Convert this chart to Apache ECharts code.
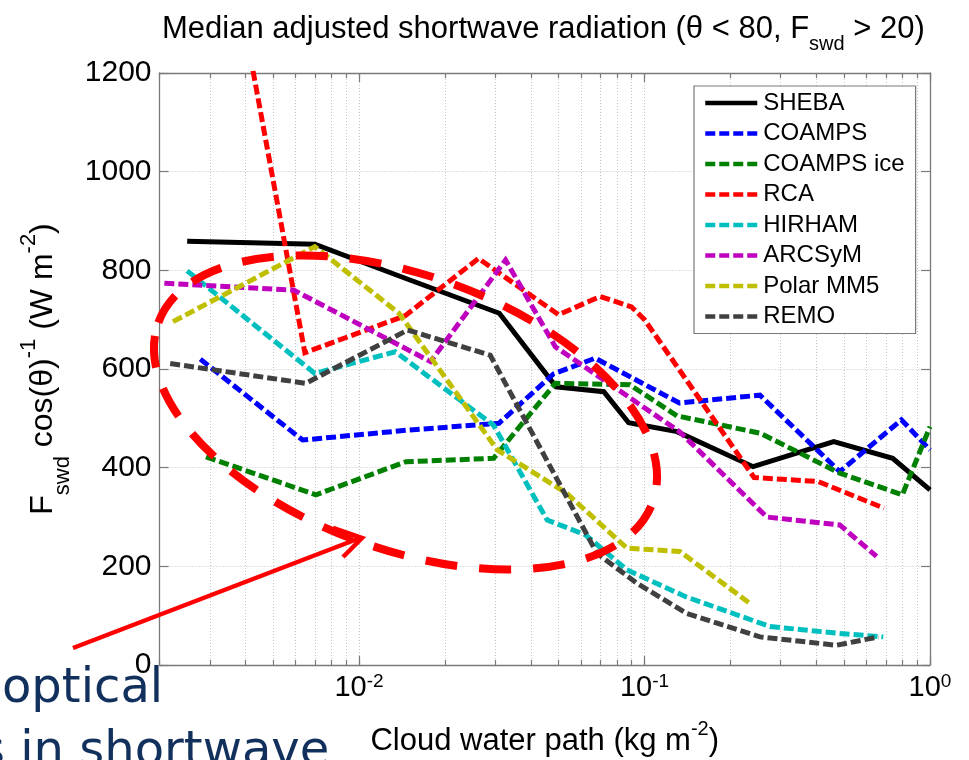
<!DOCTYPE html>
<html>
<head>
<meta charset="utf-8">
<script src="https://cdn.jsdelivr.net/npm/echarts@6/dist/echarts.min.js"></script>
<style>
  html, body { margin: 0; padding: 0; background: #ffffff; }
  #chart { width: 969px; height: 760px; }
</style>
</head>
<body>
<div id="chart"></div>
<script>
// Series names and colours (legend order)
const seriesNames = ['SHEBA', 'COAMPS', 'COAMPS ice', 'RCA', 'HIRHAM', 'ARCSyM', 'Polar MM5', 'REMO'];
const seriesColors = ['#000000', '#0000ff', '#008000', '#ff0000', '#00bfbf', '#bf00bf', '#bfbf00', '#404040'];

// Median values: [cloud water path (kg m^-2), F_swd cos(θ)^-1 (W m^-2)]
const sheba = [[0.0025, 859], [0.0070, 853], [0.0136, 790], [0.031, 713], [0.049, 564], [0.072, 554],
  [0.088, 491], [0.13, 473], [0.24, 402], [0.46, 453], [0.74, 419], [1.0, 355]];
const coamps = [[0.00278, 620], [0.00634, 456], [0.0148, 476], [0.0309, 490], [0.048, 590], [0.0672, 622],
  [0.1325, 531], [0.2537, 547], [0.483, 392], [0.794, 497], [1.0, 436]];
const coampsIce = [[0.00291, 422], [0.00706, 345], [0.0146, 412], [0.0296, 419], [0.0487, 571], [0.0888, 568],
  [0.13, 505], [0.2537, 470], [0.483, 389], [0.80, 345], [1.0, 483]];
const rca = [[0.0025, 1930], [0.00646, 633], [0.0145, 708], [0.0262, 824], [0.05, 710], [0.07, 747],
  [0.090, 726], [0.10, 700], [0.242, 380], [0.405, 372], [0.69, 318]];
const hirham = [[0.0025, 799], [0.0070, 591], [0.0134, 635], [0.0296, 486], [0.0456, 294], [0.062, 264],
  [0.0867, 193], [0.14, 138], [0.275, 78], [0.483, 64], [0.686, 57]];
const arcsym = [[0.00208, 774], [0.0059, 760], [0.0178, 615], [0.0326, 821], [0.0487, 645], [0.1325, 473],
  [0.268, 300], [0.483, 284], [0.65, 220]];
const polarMM5 = [[0.00223, 696], [0.0070, 848], [0.0138, 713], [0.0305, 436], [0.0534, 348], [0.0867, 237],
  [0.133, 230], [0.234, 125]];
const remo = [[0.00218, 611], [0.00651, 571], [0.0148, 679], [0.0288, 628], [0.0682, 226], [0.0939, 166],
  [0.14, 105], [0.2537, 57], [0.47, 40], [0.66, 57]];

const seriesData = [sheba, coamps, coampsIce, rca, hirham, arcsym, polarMM5, remo];

// Axis ticks
const xMin = 0.002, xMax = 1;
const xMajorTicks = [0.01, 0.1, 1];
const xMinorTicks = [];
[0.001, 0.01, 0.1].forEach(function (d) {
  for (let k = 1; k <= 9; k++) {
    const v = +(k * d).toPrecision(6);
    if (v >= xMin) xMinorTicks.push(v);
  }
});
xMinorTicks.push(1);
const yMin = 0, yMax = 1200, yStep = 200;

const FONT = 'Liberation Sans, Arial, Helvetica, sans-serif';
const SLIDE_FONT = '"DejaVu Sans", Verdana, sans-serif';
const BOX = '#7a7a7a';
const GRIDLINE = '#c4c4c4';

const supLabel = {
  b: { fontSize: 29, fontFamily: FONT, color: '#000', lineHeight: 30, verticalAlign: 'bottom' },
  sup: { fontSize: 19, fontFamily: FONT, color: '#000', lineHeight: 20, verticalAlign: 'top' }
};

function xAxisDef(position, ticks, tickLen, showLine, withLabels, withGrid) {
  return {
    type: 'log',
    logBase: 10,
    min: xMin,
    max: xMax,
    position: position,
    gridIndex: 0,
    axisLine: { show: showLine, onZero: false, lineStyle: { color: BOX, width: 1.3 } },
    axisTick: { show: true, inside: true, length: tickLen, customValues: ticks, lineStyle: { color: BOX, width: 1.2 } },
    axisLabel: withLabels ? {
      show: true,
      customValues: xMajorTicks,
      margin: 7,
      formatter: function (v) { return '{b|10}{sup|' + Math.round(Math.log10(v)) + '}'; },
      rich: supLabel,
      lineHeight: 40
    } : { show: false },
    splitLine: { show: withGrid, lineStyle: { color: GRIDLINE, width: 1, type: [1, 2] } },
    minorTick: { show: false },
    minorSplitLine: { show: false }
  };
}

const xAxes = [
  xAxisDef('bottom', xMajorTicks, 9, true, true, false),
  xAxisDef('bottom', xMinorTicks, 5, false, false, true),
  xAxisDef('top', xMajorTicks, 9, true, false, false),
  xAxisDef('top', xMinorTicks, 5, false, false, false)
];
xAxes[0].name = '{b|Cloud water path (kg m}{sup|-2}{b|)}';
xAxes[0].nameLocation = 'middle';
xAxes[0].nameGap = 58;
xAxes[0].nameTextStyle = {
  rich: {
    b: { fontSize: 31, fontFamily: FONT, color: '#000', lineHeight: 30, padding: [7, 0, 0, 0] },
    sup: { fontSize: 20, fontFamily: FONT, color: '#000', lineHeight: 19, padding: [0, 0, 18, 0] }
  }
};

const yAxes = [
  {
    type: 'value', position: 'left', min: yMin, max: yMax, interval: yStep,
    axisLine: { show: true, onZero: false, lineStyle: { color: BOX, width: 1.3 } },
    axisTick: { show: true, inside: true, length: 9, lineStyle: { color: BOX, width: 1.2 } },
    axisLabel: { show: true, margin: 8, fontSize: 30, fontFamily: FONT, color: '#000',
      formatter: function (v) { return String(v); } },
    splitLine: { show: true, lineStyle: { color: GRIDLINE, width: 1, type: [1, 2] } },
    name: '{b|F}{sub|swd}{b| cos(θ)}{sup|-1}{b| (W m}{sup|-2}{b|)}',
    nameLocation: 'middle',
    nameRotate: 90,
    nameGap: 72,
    nameTextStyle: {
      rich: {
        b: { fontSize: 32, fontFamily: FONT, color: '#000', lineHeight: 30, padding: [21, 0, 15, 0] },
        sub: { fontSize: 22, fontFamily: FONT, color: '#000', lineHeight: 20, padding: [46, 0, 0, 0] },
        sup: { fontSize: 22, fontFamily: FONT, color: '#000', lineHeight: 20, padding: [12, 0, 34, 0] }
      }
    }
  },
  {
    type: 'value', position: 'right', min: yMin, max: yMax, interval: yStep,
    axisLine: { show: true, onZero: false, lineStyle: { color: BOX, width: 1.3 } },
    axisTick: { show: true, inside: true, length: 9, lineStyle: { color: BOX, width: 1.2 } },
    axisLabel: { show: false },
    splitLine: { show: false }
  }
];

const series = seriesNames.map(function (name, i) {
  return {
    name: name,
    type: 'line',
    xAxisIndex: 0,
    yAxisIndex: 0,
    data: seriesData[i],
    symbol: 'none',
    clip: true,
    z: 2 + i * 0.01,
    lineStyle: {
      color: seriesColors[i],
      width: 5,
      type: i === 0 ? 'solid' : [10, 4],
      cap: 'butt',
      join: 'miter'
    },
    itemStyle: { color: seriesColors[i] },
    emphasis: { disabled: true }
  };
});

const chart = echarts.init(document.getElementById('chart'), null, { renderer: 'canvas' });
chart.setOption({
  animation: false,
  backgroundColor: '#ffffff',
  title: {
    left: 162,
    top: 14,
    text: '{t|Median adjusted shortwave radiation (θ < 80, F}{s|swd}{t| > 20)}',
    padding: 0,
    textStyle: {
      fontWeight: 'normal',
      rich: {
        t: { fontSize: 31, fontFamily: FONT, fontWeight: 'normal', color: '#000', lineHeight: 30, verticalAlign: 'top' },
        s: { fontSize: 20, fontFamily: FONT, fontWeight: 'normal', color: '#000', lineHeight: 19, padding: [31, 0, 0, 0] }
      }
    }
  },
  grid: { left: 159.5, right: 39, top: 73, bottom: 95, outerBoundsMode: 'none', containLabel: false },
  legend: {
    left: 694,
    top: 86,
    orient: 'vertical',
    padding: [5, 11, 5, 9],
    itemGap: 6.5,
    itemWidth: 52,
    itemHeight: 14,
    backgroundColor: '#ffffff',
    borderColor: BOX,
    borderWidth: 1.2,
    borderRadius: 0,
    selectedMode: false,
    itemStyle: { opacity: 0 },
    lineStyle: { width: 4.5 },
    textStyle: { fontSize: 24, fontFamily: FONT, color: '#000', lineHeight: 24, padding: [0, 0, 0, 1] },
    data: seriesNames
  },
  xAxis: xAxes,
  yAxis: yAxes,
  series: series,
  graphic: [
    {
      // Highlight ellipse around the thin-cloud part of the distribution
      type: 'ellipse',
      x: 405.5, y: 412.5,
      rotation: -20 * Math.PI / 180,
      shape: { cx: 0, cy: 0, rx: 263, ry: 137 },
      style: { fill: null, stroke: '#ff0000', lineWidth: 8, lineDash: [32, 22] },
      z: 100
    },
    {
      type: 'line',
      shape: { x1: 73, y1: 648, x2: 360, y2: 538 },
      style: { stroke: '#ff0000', lineWidth: 4.5, lineCap: 'butt' },
      z: 100
    },
    {
      type: 'polyline',
      shape: { points: [[333, 528], [362, 538], [343, 557]] },
      style: { stroke: '#ff0000', lineWidth: 4.5, fill: null, lineJoin: 'miter' },
      z: 100
    },
    {
      type: 'text',
      x: 2, y: 690,
      style: { text: 'optical', font: '48px ' + SLIDE_FONT, fill: '#12305c', verticalAlign: 'middle', align: 'left' },
      z: 100
    },
    {
      type: 'text',
      x: -20, y: 753,
      style: { text: 's in shortwave', font: '48px ' + SLIDE_FONT, fill: '#12305c', verticalAlign: 'middle', align: 'left' },
      z: 100
    }
  ]
});
</script>
</body>
</html>
